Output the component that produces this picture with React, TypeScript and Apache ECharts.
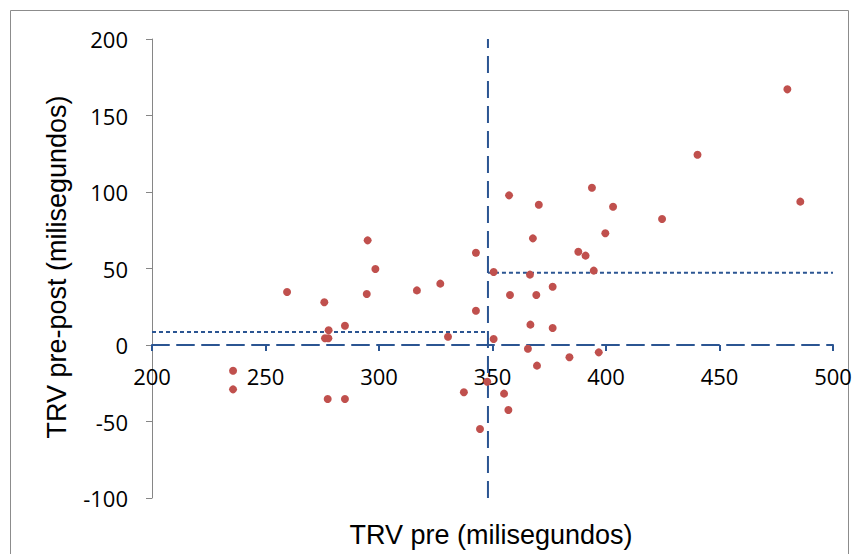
import React, { useEffect, useRef } from "react";
import * as echarts from "echarts";

const trvPre: number[] = [
  259.5, 275.9, 294.6, 277.8, 285, 276.2, 277.7, 235.7, 235.7, 277.4, 285,
  295, 298.4, 316.7, 327, 342.7, 342.7, 350.5, 330.4, 350.5, 365.6, 369.6,
  347.7, 337.4, 355.1, 357, 344.5, 357.3, 370.4, 393.8, 403.1, 399.7, 367.8,
  387.8, 391, 366.5, 394.6, 376.5, 357.7, 369.3, 366.7, 376.5, 383.9, 396.8,
  479.9, 440.3, 485.6, 424.7,
];
const trvDiff: number[] = [
  34.6, 27.9, 33.3, 9.6, 12.6, 4.4, 4.4, -16.8, -29, -35.3, -35.3,
  68.4, 49.7, 35.7, 40.1, 60.3, 22.4, 47.7, 5.4, 3.9, -2.4, -13.5,
  -24, -30.9, -31.8, -42.5, -54.9, 97.8, 91.7, 102.8, 90.4, 73, 69.7,
  61, 58.4, 46, 48.6, 38.1, 32.7, 32.7, 13.3, 11.1, -8, -4.8,
  167.1, 124.4, 93.7, 82.4,
];

const cutX = 348;
const meanLow = 8.5;
const meanHigh = 47.3;
const xMin = 200;
const xMax = 500;
const yMin = -100;
const yMax = 200;

const xTitle = "TRV pre (milisegundos)";
const yTitle = "TRV pre-post (milisegundos)";

const blue = "#2B5592";

const GRID_TOP = 39;
const GRID_BOTTOM = 56;
const H = 554;

export default function App() {
  const ref = useRef<HTMLDivElement>(null);
  useEffect(() => {
    if (!ref.current) return;
    const chart = echarts.init(ref.current, undefined, { renderer: "svg" });
    const points = trvPre.map((x, i) => [x, trvDiff[i]]);
    const gridH = H - GRID_TOP - GRID_BOTTOM;
    const zeroOffset = -(gridH * (0 - yMin)) / (yMax - yMin);
    chart.setOption({
      animation: false,
      backgroundColor: "#ffffff",
      grid: {
        left: 152,
        right: 26,
        top: GRID_TOP,
        bottom: GRID_BOTTOM,
        containLabel: false,
        outerBoundsMode: "none",
      },
      graphic: [
        {
          type: "rect",
          shape: { x: 10.5, y: 10.5, width: 838, height: 600 },
          style: { fill: "none", stroke: "#8c8c8c", lineWidth: 1 },
          silent: true,
          z: -10,
        },
        {
          type: "text",
          x: 491,
          y: 535,
          style: {
            text: xTitle,
            fontFamily: "Liberation Sans",
            fontSize: 27,
            fill: "#000",
            align: "center",
            verticalAlign: "middle",
          },
        },
        {
          type: "text",
          x: 57,
          y: 267,
          rotation: Math.PI / 2,
          style: {
            text: yTitle,
            fontFamily: "Liberation Sans",
            fontSize: 27,
            fill: "#000",
            align: "center",
            verticalAlign: "middle",
          },
        },
      ],
      xAxis: {
        type: "value",
        min: xMin,
        max: xMax,
        interval: 50,
        position: "bottom",
        offset: zeroOffset,
        axisLine: {
          onZero: false,
          lineStyle: { color: blue, width: 2, type: [17, 8] },
        },
        axisTick: { show: true, length: 6, lineStyle: { color: blue, width: 2 } },
        axisLabel: {
          margin: 20,
          fontFamily: "Open Sans",
          fontSize: 22,
          color: "#000",
        },
        splitLine: { show: false },
      },
      yAxis: {
        type: "value",
        min: yMin,
        max: yMax,
        interval: 50,
        axisLine: { show: true, onZero: false, lineStyle: { color: "#868686", width: 1 } },
        axisTick: { show: true, length: 6, lineStyle: { color: "#868686" } },
        axisLabel: {
          margin: 24,
          fontFamily: "Open Sans",
          fontSize: 22,
          color: "#000",
        },
        splitLine: { show: false },
      },
      series: [
        {
          type: "line",
          data: [
            [cutX, yMin],
            [cutX, yMax],
          ],
          symbol: "none",
          lineStyle: { color: blue, width: 2, type: [17, 8] },
          z: 1,
        },
        {
          type: "line",
          data: [
            [xMin, meanLow],
            [cutX, meanLow],
          ],
          symbol: "none",
          lineStyle: { color: blue, width: 2, type: [4, 3] },
          z: 1,
        },
        {
          type: "line",
          data: [
            [cutX, meanHigh],
            [xMax, meanHigh],
          ],
          symbol: "none",
          lineStyle: { color: blue, width: 2, type: [4, 3] },
          z: 1,
        },
        {
          type: "scatter",
          data: points,
          symbol: "circle",
          symbolSize: 8,
          itemStyle: { color: "#C0504D", opacity: 1 },
          z: 5,
        },
      ],
    });
    return () => chart.dispose();
  }, []);
  return (
    <div
      ref={ref}
      style={{ position: "fixed", left: 0, top: 0, width: 859, height: 554 }}
    />
  );
}
